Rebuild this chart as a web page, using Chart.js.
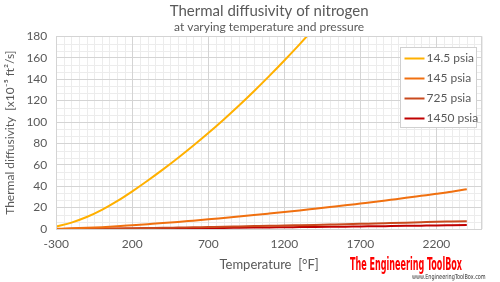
<!DOCTYPE html>
<html><head><meta charset="utf-8">
<script src="https://cdn.jsdelivr.net/npm/chart.js@4/dist/chart.umd.min.js"></script>
<style>
html,body{margin:0;padding:0;background:#fff;}
#wrap{position:relative;width:500px;height:282px;overflow:hidden;}
#c{position:absolute;left:0;top:0;}
#wm1{position:absolute;left:350px;top:255px;font-family:'DejaVu Sans Condensed','DejaVu Sans',sans-serif;font-weight:bold;font-size:18px;line-height:18px;color:#ff0000;transform-origin:0 0;white-space:nowrap;}
#wm2{position:absolute;left:412px;top:274px;font-family:'DejaVu Sans',sans-serif;font-size:7px;line-height:7px;color:#333;transform-origin:0 0;white-space:nowrap;}
</style></head>
<body><div id="wrap"><canvas id="c" width="500" height="282"></canvas>
<div id="wm1">The Engineering ToolBox</div><div id="wm2">www.EngineeringToolBox.com</div></div>
<script>
// ---- data ----
const temperaturesF = [-300,-200,-100,0,100,200,300,400,500,600,700,800,900,1000,1100,1200,1300,1400,1500,1600,1700,1800,1900,2000,2100,2200,2300,2400];
const psia14_5 = [2.3,6.0,11.2,17.9,26.0,35.2,45.1,55.5,66.4,77.8,89.7,102.2,115.2,128.8,142.9,157.5,172.6,188.2];
const psia145  = [0.2,0.6,1.1,1.7,2.5,3.5,4.5,5.5,6.6,7.8,9.0,10.3,11.6,13.0,14.4,15.8,17.3,18.9,20.5,22.1,23.8,25.5,27.3,29.1,31.0,32.9,34.9,37.2];
const psia725  = [0.05,0.12,0.22,0.35,0.5,0.7,0.9,1.1,1.35,1.6,1.85,2.1,2.4,2.7,3.0,3.2,3.5,3.8,4.1,4.4,4.8,5.1,5.5,5.9,6.3,6.7,7.0,7.3];
const psia1450 = [0.02,0.06,0.11,0.18,0.26,0.35,0.45,0.55,0.67,0.8,0.92,1.05,1.2,1.35,1.5,1.62,1.76,1.9,2.05,2.2,2.4,2.55,2.75,2.95,3.15,3.35,3.5,3.65];
const seriesLabels = ['14.5 psia','145 psia','725 psia','1450 psia'];
const seriesColors = ['#FFB000','#F07010','#C94A1E','#C00000'];
const xTickValues = [-300,200,700,1200,1700,2200];
const yTickValues = [0,20,40,60,80,100,120,140,160,180];

const FONT = 'Lato, "Open Sans", sans-serif';
const GREY = '#595959';

function pts(arr){ return arr.map((v,i)=>({x:temperaturesF[i], y:v})); }
const allSeries = [psia14_5, psia145, psia725, psia1450];

const gridPlugin = {
  id:'gridMinor',
  beforeDraw(chart){
    const {ctx, chartArea:a, scales:{x,y}} = chart;
    ctx.save();
    ctx.fillStyle='#fff'; ctx.fillRect(0,0,chart.width,chart.height);
    ctx.strokeStyle='#ececec'; ctx.lineWidth=1;
    ctx.beginPath();
    for(let v=-300; v<=2500; v+=50){
      if((v+300)%500===0) continue;
      const px=Math.round(x.getPixelForValue(v))+0.5;
      ctx.moveTo(px,a.top); ctx.lineTo(px,a.bottom);
    }
    for(let k=0;k<=27;k++){
      if(k%3===0) continue;
      const py=Math.round(y.getPixelForValue(k*20/3))+0.5;
      ctx.moveTo(a.left,py); ctx.lineTo(a.right,py);
    }
    ctx.stroke();
    ctx.restore();
  },
  afterDatasetsDraw(chart){
    const {ctx, chartArea:a} = chart;
    ctx.save();
    ctx.strokeStyle='#d4d4d4'; ctx.lineWidth=1;
    ctx.strokeRect(Math.round(a.left)+0.5, Math.round(a.top)+0.5, Math.round(a.right-a.left)-1, Math.round(a.bottom-a.top));
    // legend
    const bx = Math.round(a.right)-81.5, by = Math.round(a.top)+11.5, bw=76, bh=80;
    ctx.fillStyle='#fff'; ctx.fillRect(bx,by,bw,bh);
    ctx.strokeStyle='#d0d0d0'; ctx.strokeRect(bx,by,bw,bh);
    ctx.font = '12px '+FONT; ctx.textBaseline='middle'; ctx.fillStyle=GREY;
    chart.data.datasets.forEach((ds,i)=>{
      const ly = by+11+20*i;
      ctx.strokeStyle=ds.borderColor; ctx.lineWidth=2;
      ctx.beginPath(); ctx.moveTo(bx+4,ly); ctx.lineTo(bx+24,ly); ctx.stroke();
      ctx.fillText(ds.label, bx+26, ly);
    });
    ctx.restore();
  }
};

new Chart(document.getElementById('c'), {
  type:'line',
  data:{ datasets: allSeries.map((s,i)=>({
    label: seriesLabels[i], data: pts(s), borderColor: seriesColors[i], backgroundColor: seriesColors[i],
    borderWidth: 2, pointRadius: 0, tension: 0.4, cubicInterpolationMode:'monotone', fill:false
  }))},
  options:{
    responsive:false, animation:false, devicePixelRatio:1,
    layout:{padding:{left:3,right:18,top:2,bottom:9}},
    plugins:{
      legend:{display:false}, tooltip:{enabled:false},
      title:{display:true, text:'Thermal diffusivity of nitrogen', color:GREY, font:{family:FONT,size:15,weight:'normal'}, padding:{top:0,bottom:0}, fullSize:false},
      subtitle:{display:true, text:'at varying temperature and pressure', color:GREY, font:{family:FONT,size:12,weight:'normal'}, padding:{top:0,bottom:2}, fullSize:false}
    },
    scales:{
      x:{type:'linear', min:-300, max:2500,
        afterBuildTicks(s){ s.ticks = xTickValues.map(v=>({value:v})); },
        grid:{color:'#d4d4d4', drawTicks:false},
        border:{display:false},
        ticks:{color:GREY, font:{family:FONT,size:12}, padding:8, callback:(v)=>String(v)},
        title:{display:true, text:'Temperature  [°F]', color:GREY, font:{family:FONT,size:13}, padding:{top:-2,bottom:0}}
      },
      y:{type:'linear', min:0, max:180,
        afterBuildTicks(s){ s.ticks = yTickValues.map(v=>({value:v})); },
        grid:{color:'#d4d4d4', drawTicks:false},
        border:{display:false},
        ticks:{color:GREY, font:{family:FONT,size:12}, padding:9, callback:(v)=>String(v)},
        title:{display:true, text:'Thermal diffusivity  [x10⁻⁵ ft²/s]', color:GREY, font:{family:FONT,size:12}, padding:{top:0,bottom:0}}
      }
    }
  },
  plugins:[gridPlugin]
});

function fit(id, w){ const e=document.getElementById(id); const sw=e.scrollWidth; e.style.transform='scaleX('+(w/sw)+')'; }
fit('wm1',112); fit('wm2',74);
</script></body></html>
